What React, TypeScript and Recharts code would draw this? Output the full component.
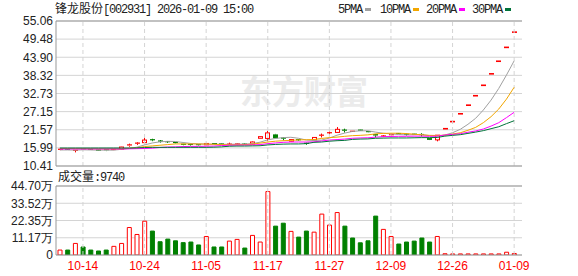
import React from 'react';
import { ComposedChart, Bar, Line, XAxis, YAxis, CartesianGrid, ReferenceLine, Cell } from 'recharts';

const dates = [
  '10-09', '10-10', '10-13', '10-14', '10-15', '10-16', '10-17', '10-20', '10-21', '10-22',
  '10-23', '10-24', '10-27', '10-28', '10-29', '10-30', '10-31', '11-03', '11-04', '11-05',
  '11-06', '11-07', '11-10', '11-11', '11-12', '11-13', '11-14', '11-17', '11-18', '11-19',
  '11-20', '11-21', '11-24', '11-25', '11-26', '11-27', '11-28', '12-01', '12-02', '12-03',
  '12-04', '12-05', '12-08', '12-09', '12-10', '12-11', '12-12', '12-15', '12-16', '12-17',
  '12-25', '12-26', '12-29', '12-30', '12-31', '01-05', '01-06', '01-07', '01-08', '01-09',
];

const opens = [
  15.4, 15.55, 15.05, 15.7, 15.55, 15.5, 15.45, 15.35, 15.55, 16.6,
  17.3, 17.6, 18.5, 18.1, 17.9, 17.65, 17.1, 17.05, 17.0, 16.95,
  17.3, 17.2, 17.1, 16.95, 17.15, 17.2, 18.95, 18.9, 20.15, 19.0,
  18.05, 18.5, 17.4, 18.4, 19.75, 20.5, 20.75, 21.45, 21.05, 21.45,
  21.0, 20.25, 19.45, 19.9, 20.4, 20.15, 20.2, 20.1, 19.0, 18.45,
  21.89, 24.08, 26.49, 29.14, 32.05, 35.26, 38.79, 42.67, 46.94, 51.63,
];
const highs = [
  15.7, 15.65, 15.3, 15.8, 15.65, 15.55, 15.5, 15.7, 16.3, 17.3,
  17.7, 19.2, 18.8, 18.4, 18.1, 17.8, 17.2, 17.3, 17.1, 17.5,
  17.4, 17.3, 17.6, 17.35, 17.35, 17.95, 19.55, 21.2, 20.3, 19.3,
  18.7, 18.7, 17.6, 19.3, 20.4, 21.0, 22.4, 21.9, 21.15, 21.55,
  21.05, 20.3, 19.9, 20.3, 20.45, 20.4, 20.3, 20.5, 19.05, 19.95,
  21.89, 24.08, 26.49, 29.14, 32.05, 35.26, 38.79, 42.67, 46.94, 51.63,
];
const lows = [
  15.3, 15.35, 14.6, 15.45, 15.35, 15.05, 15.0, 15.3, 15.5, 16.35,
  16.9, 17.4, 18.05, 17.6, 17.5, 17.2, 16.8, 16.7, 16.75, 16.85,
  17.0, 16.95, 17.0, 16.85, 16.9, 17.1, 18.9, 18.2, 18.9, 18.3,
  17.95, 18.1, 16.95, 18.3, 19.2, 20.1, 20.6, 20.7, 21.0, 21.3,
  20.7, 19.2, 19.3, 19.8, 20.25, 19.8, 20.0, 19.5, 18.4, 18.0,
  21.89, 24.08, 26.49, 29.14, 32.05, 35.26, 38.79, 42.67, 46.94, 51.63,
];
const closes = [
  15.55, 15.45, 15.25, 15.55, 15.45, 15.1, 15.1, 15.5, 16.25, 16.9,
  17.45, 18.4, 18.35, 17.95, 17.75, 17.3, 16.95, 16.95, 16.9, 17.35,
  17.1, 17.05, 17.15, 17.2, 17.05, 17.8, 19.45, 20.6, 18.95, 18.85,
  18.55, 18.3, 17.25, 19.2, 19.9, 20.65, 21.7, 21.3, 21.1, 21.4,
  20.75, 19.8, 19.65, 20.05, 20.3, 20.05, 20.1, 20.0, 18.45, 19.9,
  21.89, 24.08, 26.49, 29.14, 32.05, 35.26, 38.79, 42.67, 46.94, 51.63,
];
// 成交量 (万)
const volumes = [
  3.2, 3.2, 7.5, 5.2, 3.2, 2.6, 3.2, 5.6, 7.5, 17.8,
  13.3, 21.9, 15.5, 8.6, 10.3, 9.2, 8.0, 8.4, 6.5, 12.0,
  5.2, 5.2, 9.0, 10.1, 4.5, 12.7, 8.4, 41.1, 18.7, 20.6,
  15.3, 11.6, 15.5, 14.8, 26.5, 19.4, 27.5, 18.7, 11.0, 7.9,
  9.2, 25.2, 16.6, 12.0, 7.1, 8.4, 9.0, 11.0, 8.4, 12.0,
  0.8, 0.7, 0.7, 0.7, 0.7, 0.7, 0.7, 0.7, 1.8, 0.974,
];
const volUp = [
  1, 0, 1, 0, 0, 0, 0, 1, 1, 1,
  1, 1, 0, 0, 0, 0, 0, 0, 0, 1,
  0, 0, 1, 1, 0, 1, 1, 1, 0, 0,
  1, 0, 0, 1, 1, 1, 1, 0, 0, 0,
  0, 0, 1, 1, 0, 0, 0, 0, 0, 1,
  1, 1, 1, 1, 1, 1, 1, 1, 1, 1,
];

const ma5 = [
  15.35, 15.35, 15.3, 15.4, 15.35, 15.3, 15.3, 15.3, 15.55, 15.8,
  16.2, 16.9, 17.5, 17.85, 18.0, 17.95, 17.65, 17.35, 17.2, 17.15,
  17.1, 17.1, 17.1, 17.15, 17.15, 17.3, 17.75, 18.45, 18.9, 19.15,
  19.25, 18.95, 18.4, 18.25, 18.4, 19.0, 19.9, 20.55, 21.05, 21.25,
  21.25, 20.85, 20.5, 20.3, 20.1, 20.0, 20.05, 20.1, 19.75, 19.6,
  19.95, 20.65, 21.7, 23.25, 25.1, 27.65, 30.7, 34.3, 38.4, 42.8,
];
const ma10 = [
  15.8, 15.8, 15.75, 15.75, 15.7, 15.7, 15.65, 15.65, 15.7, 15.85,
  16.0, 16.4, 16.6, 16.8, 17.0, 17.2, 17.2, 17.2, 17.2, 17.15,
  17.1, 17.0, 16.95, 16.95, 17.0, 17.15, 17.45, 17.8, 18.05, 18.2,
  18.3, 18.45, 18.5, 18.55, 18.9, 19.15, 19.3, 19.55, 19.75, 19.85,
  20.0, 20.3, 20.45, 20.5, 20.5, 20.4, 20.2, 20.0, 19.85, 19.8,
  19.9, 20.25, 20.65, 21.4, 22.3, 23.75, 25.6, 27.95, 31.0, 34.65,
];
const ma20 = [
  15.65, 15.65, 15.65, 15.65, 15.65, 15.65, 15.65, 15.65, 15.65, 15.7,
  15.75, 15.8, 15.9, 16.1, 16.25, 16.3, 16.4, 16.45, 16.45, 16.5,
  16.55, 16.7, 16.8, 16.85, 16.85, 16.9, 17.0, 17.3, 17.5, 17.7,
  17.8, 17.8, 17.8, 17.85, 18.1, 18.4, 18.55, 18.7, 18.95, 19.05,
  19.1, 19.3, 19.45, 19.5, 19.55, 19.55, 19.6, 19.6, 19.55, 19.6,
  19.95, 20.15, 20.35, 20.8, 21.2, 21.8, 22.7, 23.75, 25.3, 26.95,
];
const ma30 = [
  15.95, 15.95, 15.95, 15.95, 15.95, 15.95, 15.95, 15.95, 15.95, 15.95,
  16.0, 16.1, 16.15, 16.15, 16.15, 16.15, 16.15, 16.15, 16.15, 16.15,
  16.2, 16.3, 16.5, 16.55, 16.55, 16.6, 16.65, 16.9, 17.05, 17.15,
  17.2, 17.2, 17.3, 17.7, 17.8, 18.05, 18.2, 18.3, 18.6, 18.7,
  18.75, 18.95, 19.0, 19.05, 19.05, 19.05, 19.1, 19.15, 19.15, 19.2,
  19.6, 19.85, 20.05, 20.45, 20.85, 21.3, 21.9, 22.5, 23.45, 24.35,
];

const priceTicks = [10.41, 15.99, 21.57, 27.15, 32.73, 38.32, 43.9, 49.48, 55.06];
const volTicks = [0, 11.17, 22.35, 33.52, 44.7];
const dateTicks = ['10-14', '10-24', '11-05', '11-17', '11-27', '12-09', '12-26', '01-09'];

const RED = '#ff0000';
const GREEN = '#008000';
const BORDER = '#999999';
const GRID = '#d4d4d4';
const SANS = '"Liberation Sans", Arial, sans-serif';
const MONO = '"Liberation Mono", "DejaVu Sans Mono", monospace';
const CJK = '"Noto Sans CJK SC", sans-serif';

const data = dates.map((d, i) => ({
  date: d,
  open: opens[i],
  high: highs[i],
  low: lows[i],
  close: closes[i],
  vol: volumes[i],
  up: volUp[i],
  ma5: ma5[i],
  ma10: ma10[i],
  ma20: ma20[i],
  ma30: ma30[i],
}));

const Candle = (props: any) => {
  const { x, y, width, height, payload } = props;
  if (!payload || x == null || y == null) return null;
  const { open, close, high, low } = payload;
  const cx = Math.round(x + width / 2) + 0.5;
  const up = close >= open;
  const color = up ? RED : GREEN;
  if (!(high > low) || !(height > 0)) {
    return <line x1={cx - 2.5} x2={cx + 2.5} y1={y} y2={y} stroke={color} strokeWidth={1.6} />;
  }
  const k = height / (high - low);
  const yO = y + (high - open) * k;
  const yC = y + (high - close) * k;
  const top = Math.min(yO, yC);
  const bot = Math.max(yO, yC);
  let body;
  if (bot - top < 1.2) {
    body = <line x1={cx - 2.5} x2={cx + 2.5} y1={top} y2={top} stroke={color} strokeWidth={1.2} />;
  } else if (up) {
    body = <rect x={cx - 2} y={top} width={4} height={bot - top} fill="#ffffff" stroke={color} strokeWidth={1} />;
  } else {
    body = <rect x={cx - 2.5} y={top} width={5} height={bot - top} fill={color} />;
  }
  return (
    <g>
      <line x1={cx} x2={cx} y1={y} y2={top} stroke={color} strokeWidth={1} />
      <line x1={cx} x2={cx} y1={bot} y2={y + height} stroke={color} strokeWidth={1} />
      {body}
    </g>
  );
};

const tickStyle = { fontSize: 12, fill: '#222', fontFamily: SANS };

export default function App() {
  return (
    <div style={{ position: 'absolute', left: 0, top: 0, width: 578, height: 276, background: '#fff' }}>
      <svg width={578} height={276} style={{ position: 'absolute', left: 0, top: 0 }}>
        <text x={240} y={104} fontSize={33} fontWeight={700} fill="#ebebeb" fontFamily={CJK} textLength={128} lengthAdjust="spacingAndGlyphs">
          东方财富
        </text>
        <text y={13} fontSize={12} fill="#222">
          <tspan x={55} fontFamily={CJK}>锋龙股份</tspan>
          <tspan x={103} fontFamily={MONO} letterSpacing={-1.2}>[002931] 2026-01-09 15:00</tspan>
        </text>
        <text y={13} fontSize={12} fill="#222" fontFamily={MONO} letterSpacing={-1.2}>
          <tspan x={338}>5PMA</tspan>
          <tspan x={380}>10PMA</tspan>
          <tspan x={426}>20PMA</tspan>
          <tspan x={472}>30PMA</tspan>
        </text>
        <rect x={365} y={8} width={6} height={3} fill="#a0a0a0" />
        <rect x={413} y={8} width={6} height={3} fill="#f2a600" />
        <rect x={459} y={8} width={6} height={3} fill="#ff00ff" />
        <rect x={505} y={8} width={6} height={3} fill="#00733a" />
        <text y={181} fontSize={12} fill="#222">
          <tspan x={58} fontFamily={CJK}>成交量</tspan>
          <tspan x={94} fontFamily={MONO} letterSpacing={-1.2}>:9740</tspan>
        </text>
      </svg>

      <div style={{ position: 'absolute', left: 0, top: 0 }}>
        <ComposedChart width={578} height={178} data={data} margin={{ top: 21, right: 56, bottom: 12, left: 0 }}>
          <CartesianGrid horizontal vertical={false} stroke={GRID} />
          <XAxis dataKey="date" hide padding={{ left: 0, right: 4 }} />
          <YAxis
            domain={[10.41, 55.06]}
            ticks={priceTicks}
            allowDataOverflow
            width={56}
            interval={0}
            tickLine={false}
            tickSize={0}
            tickMargin={3}
            axisLine={{ stroke: BORDER }}
            tick={tickStyle}
            tickFormatter={(v: number) => v.toFixed(2)}
          />
          <YAxis yAxisId="r" orientation="right" width={0} domain={[0, 1]} tick={false} tickLine={false} axisLine={{ stroke: BORDER }} />
          {dateTicks.map((d) => (
            <ReferenceLine key={d} x={d} stroke={GRID} strokeDasharray="4 3" />
          ))}
          <ReferenceLine y={55.06} stroke={BORDER} />
          <ReferenceLine y={10.41} stroke={BORDER} />
          <Line dataKey="ma5" stroke="#a0a0a0" dot={false} strokeWidth={1} isAnimationActive={false} />
          <Line dataKey="ma10" stroke="#f2a600" dot={false} strokeWidth={1} isAnimationActive={false} />
          <Line dataKey="ma20" stroke="#ff00ff" dot={false} strokeWidth={1} isAnimationActive={false} />
          <Line dataKey="ma30" stroke="#00733a" dot={false} strokeWidth={1} isAnimationActive={false} />
          <Bar dataKey={(d: any) => [d.low, d.high]} barSize={5} shape={Candle} isAnimationActive={false} />
        </ComposedChart>
      </div>

      <div style={{ position: 'absolute', left: 0, top: 170 }}>
        <ComposedChart width={578} height={106} data={data} margin={{ top: 16, right: 56, bottom: 0, left: 0 }}>
          <CartesianGrid horizontal vertical={false} stroke={GRID} />
          <XAxis
            dataKey="date"
            ticks={dateTicks}
            interval={0}
            padding={{ left: 0, right: 4 }}
            height={21}
            axisLine={false}
            tickLine={false}
            tickSize={0}
            tickMargin={6}
            tick={{ fontSize: 12, fill: RED, fontFamily: SANS }}
          />
          <YAxis
            domain={[0, 44.7]}
            ticks={volTicks}
            allowDataOverflow
            width={56}
            interval={0}
            tickLine={false}
            tickSize={0}
            tickMargin={3}
            axisLine={{ stroke: BORDER }}
            tick={tickStyle}
            tickFormatter={(v: number) => (v === 0 ? '0' : v.toFixed(2) + '万')}
          />
          <YAxis yAxisId="r" orientation="right" width={0} domain={[0, 1]} tick={false} tickLine={false} axisLine={{ stroke: BORDER }} />
          {dateTicks.map((d) => (
            <ReferenceLine key={d} x={d} stroke={GRID} strokeDasharray="4 3" />
          ))}
          <ReferenceLine y={44.7} stroke={BORDER} />
          <ReferenceLine y={0} stroke={BORDER} />
          <Bar dataKey="vol" barSize={4} isAnimationActive={false}>
            {data.map((d, i) => (
              <Cell key={i} fill={d.up ? '#ffffff' : GREEN} stroke={d.up ? RED : GREEN} strokeWidth={1} />
            ))}
          </Bar>
        </ComposedChart>
      </div>
    </div>
  );
}
